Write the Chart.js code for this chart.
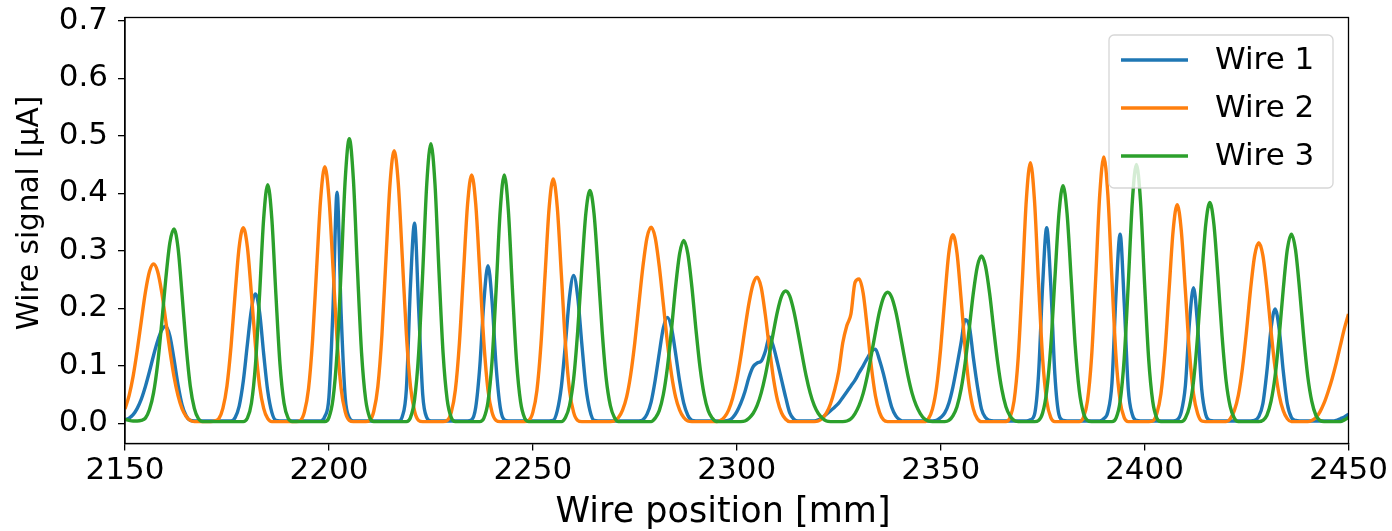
<!DOCTYPE html>
<html><head><meta charset="utf-8">
<script src="https://cdn.jsdelivr.net/npm/chart.js@4.4.1/dist/chart.umd.min.js"></script>
<style>html,body{margin:0;padding:0;background:#fff;}canvas{display:block;}</style>
</head><body>
<canvas id="c" width="1392" height="531"></canvas>
<script>
// Wire position grid [mm], 1 mm sampling from 2150 to 2450
const positions = Array.from({length: 301}, (_, i) => 2150 + i);

// Wire signal [µA], one row per 10 mm (2150, 2160, ...)
const wire1 = [
.006,.009,.015,.026,.042,.064,.090,.118,.143,.162,
.169,.152,.112,.067,.032,.013,.005,.004,.004,.004,
.004,.004,.004,.004,.004,.004,.004,.010,.030,.073,
.137,.198,.225,.193,.121,.056,.019,.005,.004,.004,
.004,.004,.004,.004,.004,.004,.004,.004,.004,.012,
.045,.200,.402,.190,.045,.010,.004,.004,.004,.004,
.004,.004,.004,.004,.004,.004,.004,.004,.012,.060,
.240,.348,.200,.050,.010,.004,.004,.004,.004,.004,
.004,.004,.004,.004,.004,.006,.028,.099,.212,.274,
.212,.099,.028,.006,.004,.004,.004,.004,.004,.004,
.004,.004,.004,.004,.004,.005,.022,.064,.139,.220,
.257,.220,.139,.064,.022,.005,.004,.004,.004,.004,
.004,.004,.004,.004,.004,.004,.004,.006,.016,.037,
.075,.122,.166,.184,.166,.122,.073,.035,.014,.005,
.004,.004,.004,.004,.004,.004,.004,.004,.005,.010,
.020,.035,.055,.080,.098,.105,.108,.125,.150,.133,
.105,.075,.045,.018,.007,.004,.004,.004,.004,.004,
.006,.010,.016,.022,.028,.035,.045,.055,.065,.075,
.088,.100,.113,.125,.129,.110,.085,.055,.028,.013,
.006,.004,.004,.004,.004,.004,.004,.004,.004,.005,
.010,.018,.035,.063,.100,.140,.180,.170,.115,.065,
.025,.010,.005,.004,.004,.004,.004,.004,.004,.004,
.004,.004,.006,.015,.085,.240,.340,.240,.085,.015,
.005,.004,.004,.004,.004,.004,.004,.004,.004,.004,
.008,.020,.070,.225,.329,.210,.060,.015,.005,.004,
.004,.004,.004,.004,.004,.004,.004,.004,.006,.020,
.065,.175,.236,.170,.060,.015,.005,.004,.004,.004,
.004,.004,.004,.004,.004,.004,.004,.005,.012,.034,
.091,.164,.199,.164,.091,.034,.010,.005,.004,.004,
.004,.004,.004,.004,.004,.004,.004,.005,.008,.011,
.016];

const wire2 = [
.025,.048,.082,.127,.178,.228,.264,.277,.264,.228,
.178,.127,.082,.048,.025,.012,.005,.003,.003,.003,
.003,.003,.004,.008,.026,.065,.134,.225,.307,.340,
.307,.225,.134,.065,.026,.008,.003,.003,.003,.003,
.003,.003,.003,.005,.020,.060,.145,.271,.393,.446,
.393,.271,.145,.060,.020,.005,.003,.003,.003,.003,
.005,.021,.064,.154,.288,.418,.474,.418,.288,.154,
.064,.021,.005,.003,.003,.003,.003,.003,.003,.005,
.019,.058,.140,.262,.381,.432,.381,.262,.140,.058,
.019,.005,.003,.003,.003,.003,.003,.003,.003,.005,
.019,.057,.138,.258,.375,.425,.375,.258,.138,.057,
.019,.005,.003,.003,.003,.003,.003,.003,.003,.003,
.004,.010,.023,.046,.085,.140,.207,.273,.323,.341,
.323,.273,.207,.140,.085,.046,.023,.010,.004,.003,
.003,.003,.003,.003,.003,.003,.005,.011,.023,.044,
.075,.116,.164,.209,.242,.254,.236,.189,.131,.078,
.040,.018,.007,.003,.003,.003,.003,.003,.003,.003,
.004,.009,.018,.034,.058,.090,.140,.170,.190,.245,
.251,.226,.166,.099,.048,.019,.006,.003,.003,.003,
.003,.003,.003,.003,.003,.003,.003,.008,.025,.063,
.130,.217,.296,.328,.296,.217,.130,.063,.025,.008,
.003,.003,.003,.003,.003,.003,.003,.010,.039,.113,
.244,.388,.453,.388,.244,.113,.039,.010,.003,.003,
.003,.003,.003,.003,.003,.010,.039,.115,.250,.397,
.463,.397,.250,.115,.039,.010,.003,.003,.003,.003,
.003,.003,.004,.017,.051,.124,.231,.335,.380,.335,
.231,.124,.051,.017,.004,.003,.003,.003,.003,.003,
.003,.008,.022,.049,.096,.161,.234,.292,.314,.292,
.234,.161,.096,.049,.022,.008,.003,.003,.003,.003,
.003,.005,.010,.020,.035,.055,.078,.105,.135,.165,
.190];

const wire3 = [
.007,.005,.004,.004,.005,.009,.024,.053,.103,.174,
.251,.314,.338,.305,.223,.134,.065,.026,.008,.003,
.003,.003,.003,.003,.003,.003,.003,.003,.003,.003,
.009,.035,.103,.224,.356,.415,.356,.224,.103,.035,
.009,.003,.003,.003,.003,.003,.003,.003,.003,.003,
.010,.042,.123,.267,.424,.495,.424,.267,.123,.042,
.010,.003,.003,.003,.003,.003,.003,.003,.003,.003,
.010,.041,.121,.262,.417,.486,.417,.262,.121,.041,
.010,.003,.003,.003,.003,.003,.003,.003,.009,.037,
.108,.233,.370,.432,.370,.233,.108,.037,.009,.003,
.003,.003,.003,.003,.003,.003,.003,.003,.010,.031,
.077,.160,.268,.365,.405,.365,.268,.160,.077,.031,
.010,.003,.003,.003,.003,.003,.003,.003,.003,.003,
.009,.022,.050,.097,.163,.237,.295,.318,.295,.237,
.163,.097,.050,.022,.009,.003,.003,.003,.003,.003,
.003,.003,.004,.009,.017,.031,.053,.083,.120,.159,
.195,.221,.230,.221,.195,.159,.120,.083,.053,.031,
.017,.009,.004,.003,.003,.003,.003,.004,.008,.017,
.031,.052,.082,.119,.158,.194,.219,.228,.219,.194,
.158,.119,.082,.052,.031,.017,.008,.004,.003,.003,
.003,.003,.005,.013,.029,.059,.105,.164,.226,.273,
.291,.273,.226,.164,.105,.059,.029,.013,.005,.003,
.003,.003,.003,.003,.005,.018,.056,.134,.251,.364,
.413,.364,.251,.134,.056,.018,.005,.003,.003,.003,
.003,.003,.003,.009,.038,.112,.243,.386,.450,.386,
.243,.112,.038,.009,.003,.003,.003,.003,.003,.003,
.009,.029,.073,.152,.254,.346,.384,.346,.254,.152,
.073,.029,.009,.003,.003,.003,.003,.003,.003,.005,
.014,.038,.082,.151,.233,.302,.329,.302,.233,.151,
.082,.038,.014,.005,.003,.003,.003,.003,.003,.006,
.010];

const seriesNames = ['Wire 1', 'Wire 2', 'Wire 3'];
const seriesColors = ['#1f77b4', '#ff7f0e', '#2ca02c'];
const xTicks = [2150, 2200, 2250, 2300, 2350, 2400, 2450];
const yTicks = [0.0, 0.1, 0.2, 0.3, 0.4, 0.5, 0.6, 0.7];
const xLabel = 'Wire position [mm]';
const yLabel = 'Wire signal [μA]';

const FONT = 'DejaVu Sans';
Chart.defaults.font.family = FONT;
Chart.defaults.color = '#000';

const allSeries = [wire1, wire2, wire3];
const datasets = allSeries.map((vals, k) => ({
  label: seriesNames[k],
  data: positions.map((x, i) => ({x: x, y: vals[i]})),
  borderColor: seriesColors[k],
  backgroundColor: seriesColors[k],
  borderWidth: 3.4,
  pointRadius: 0,
  cubicInterpolationMode: 'monotone',
  fill: false,
  order: 3 - k
}));

const framePlugin = {
  id: 'frame',
  afterDatasetsDraw(chart) {
    const {ctx, chartArea: a} = chart;
    ctx.save();
    ctx.strokeStyle = '#000';
    ctx.lineWidth = 1.3;
    ctx.strokeRect(a.left, a.top, a.right - a.left, a.bottom - a.top);
    ctx.restore();
  }
};

const titlesPlugin = {
  id: 'axisTitles',
  afterDraw(chart) {
    const ctx = chart.ctx;
    ctx.save();
    ctx.fillStyle = '#000';
    ctx.textAlign = 'center';
    ctx.textBaseline = 'middle';
    ctx.font = '35px "' + FONT + '"';
    ctx.fillText(xLabel, 723, 513);
    ctx.translate(30, 213);
    ctx.rotate(-Math.PI / 2);
    ctx.font = '29.5px "' + FONT + '"';
    ctx.fillText(yLabel, 0, 0);
    ctx.restore();
  }
};

const legendPlugin = {
  id: 'mplLegend',
  afterDatasetsDraw(chart) {
    const ctx = chart.ctx;
    const bx = 1109, by = 35, bw = 224, bh = 153, r = 5;
    ctx.save();
    ctx.beginPath();
    ctx.moveTo(bx + r, by);
    ctx.arcTo(bx + bw, by, bx + bw, by + bh, r);
    ctx.arcTo(bx + bw, by + bh, bx, by + bh, r);
    ctx.arcTo(bx, by + bh, bx, by, r);
    ctx.arcTo(bx, by, bx + bw, by, r);
    ctx.closePath();
    ctx.fillStyle = 'rgba(255,255,255,0.8)';
    ctx.fill();
    ctx.strokeStyle = 'rgba(204,204,204,0.8)';
    ctx.lineWidth = 1.3;
    ctx.stroke();
    const rows = [60, 108, 156];
    chart.data.datasets.forEach((ds, i) => {
      const y = rows[i];
      ctx.beginPath();
      ctx.strokeStyle = ds.borderColor;
      ctx.lineWidth = 3.4;
      ctx.moveTo(1121, y);
      ctx.lineTo(1188, y);
      ctx.stroke();
      ctx.fillStyle = '#000';
      ctx.font = '31px "' + FONT + '"';
      ctx.textAlign = 'left';
      ctx.textBaseline = 'middle';
      ctx.fillText(ds.label, 1215, y + 1);
    });
    ctx.restore();
  }
};

new Chart(document.getElementById('c'), {
  type: 'line',
  data: {datasets: datasets},
  options: {
    responsive: false,
    animation: false,
    devicePixelRatio: 1,
    layout: {padding: {top: 17.5, right: 43.5, left: 0, bottom: 0}},
    plugins: {legend: {display: false}, tooltip: {enabled: false}},
    scales: {
      x: {
        type: 'linear',
        min: 2150, max: 2450,
        afterBuildTicks: s => { s.ticks = xTicks.map(v => ({value: v})); },
        afterFit: s => { s.height = 87.5; s.paddingLeft = 0; s.paddingRight = 0; },
        ticks: {autoSkip: false, maxRotation: 0, padding: 5, font: {size: 31, lineHeight: 1}, color: '#000',
                callback: v => String(v)},
        grid: {display: true, drawOnChartArea: false, drawTicks: true, tickLength: 7, color: '#000', lineWidth: 1.3},
        border: {display: true, color: '#000', width: 1.3},
        title: {display: false}
      },
      y: {
        type: 'linear',
        min: -0.0351, max: 0.7056,
        afterBuildTicks: s => { s.ticks = yTicks.map(v => ({value: v})); },
        afterFit: s => { s.width = 125; s.paddingTop = 0; s.paddingBottom = 0; },
        ticks: {autoSkip: false, padding: 10, font: {size: 31, lineHeight: 1}, color: '#000',
                callback: v => Number(v).toFixed(1)},
        grid: {display: true, drawOnChartArea: false, drawTicks: true, tickLength: 7, color: '#000', lineWidth: 1.3},
        border: {display: true, color: '#000', width: 1.3},
        title: {display: false}
      }
    }
  },
  plugins: [framePlugin, legendPlugin, titlesPlugin]
});
</script>
</body></html>
